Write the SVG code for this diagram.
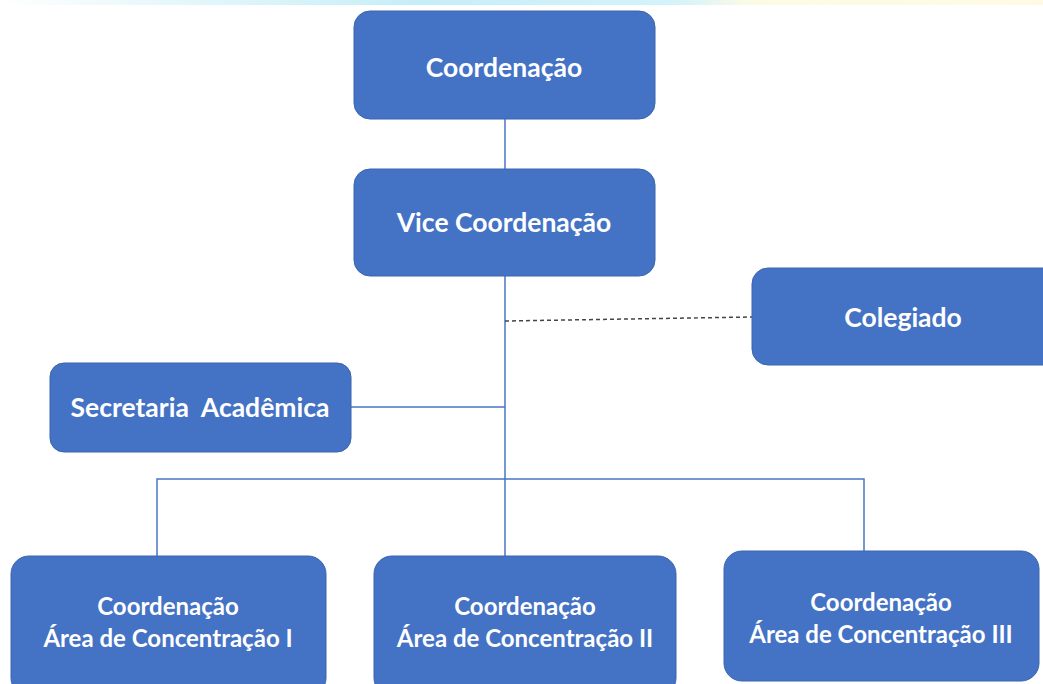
<svg xmlns="http://www.w3.org/2000/svg" width="1043" height="684" viewBox="0 0 1043 684">
<defs>
<linearGradient id="band" x1="0" y1="0" x2="1" y2="0">
<stop offset="0" stop-color="#ffffff"/>
<stop offset="0.15" stop-color="#e8f8fb"/>
<stop offset="0.4" stop-color="#c6eef8"/>
<stop offset="0.65" stop-color="#d4f3fa"/>
<stop offset="0.72" stop-color="#fdfbe6"/>
<stop offset="1" stop-color="#fffbe3"/>
</linearGradient>
</defs>
<style>
.box{fill:#4472C4;stroke:#3a64ad;stroke-width:1}
.t{font-family:Lato,"Open Sans","Liberation Sans",sans-serif;font-weight:bold;fill:#ffffff;text-anchor:middle}
.big{font-size:26.5px}
.sm{font-size:24px}
.ln{stroke:#4a74c6;stroke-width:1.5;fill:none}
.dash{stroke:#444;stroke-width:1.5;stroke-dasharray:4 3;fill:none}
</style>
<rect x="0" y="0" width="1043" height="684" fill="#ffffff"/>
<rect x="0" y="0" width="1043" height="5" fill="url(#band)"/>
<g id="connectors">
<line class="ln" x1="505" y1="119" x2="505" y2="169"/>
<line class="ln" x1="505" y1="276" x2="505" y2="556"/>
<line class="dash" x1="505" y1="321" x2="752" y2="317"/>
<line class="ln" x1="351" y1="407" x2="505" y2="407"/>
<polyline class="ln" points="157,556 157,479 864,479 864,551"/>
</g>
<g id="coordenacao">
<rect class="box" x="354" y="11" width="301" height="108" rx="16"/>
<text class="t big" x="504" y="77">Coordenação</text>
</g>
<g id="vice">
<rect class="box" x="354" y="169" width="301" height="107" rx="16"/>
<text class="t big" x="504" y="232">Vice Coordenação</text>
</g>
<g id="colegiado">
<rect class="box" x="752" y="268" width="310" height="97" rx="16"/>
<text class="t big" x="903" y="327">Colegiado</text>
</g>
<g id="secretaria">
<rect class="box" x="50" y="363" width="301" height="89" rx="14"/>
<text class="t big" x="200" y="417" xml:space="preserve">Secretaria  Acadêmica</text>
</g>
<g id="area1">
<rect class="box" x="11" y="556" width="315" height="140" rx="18"/>
<text class="t sm" x="168" y="615">Coordenação</text>
<text class="t sm" x="168" y="647">Área de Concentração I</text>
</g>
<g id="area2">
<rect class="box" x="374" y="556" width="302" height="140" rx="18"/>
<text class="t sm" x="525" y="615">Coordenação</text>
<text class="t sm" x="525" y="647">Área de Concentração II</text>
</g>
<g id="area3">
<rect class="box" x="724" y="551" width="315" height="130" rx="18"/>
<text class="t sm" x="881" y="611">Coordenação</text>
<text class="t sm" x="881" y="643">Área de Concentração III</text>
</g>
</svg>
